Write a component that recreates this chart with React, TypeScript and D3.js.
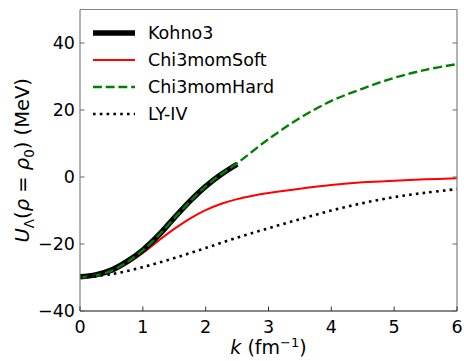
import React from "react";
import * as d3 from "d3";

const kohnoK = [0, 0.25, 0.5, 0.75, 1, 1.25, 1.5, 1.75, 2, 2.25, 2.5];
const kohnoU = [-29.8, -29.2, -27.8, -25.2, -21.8, -17.4, -12.2, -7.2, -2.8, 0.8, 3.8];

const hardK = [0, 0.25, 0.5, 0.75, 1, 1.25, 1.5, 1.75, 2, 2.25, 2.5, 3, 3.5, 4, 4.5, 5, 5.5, 6];
const hardU = [-30, -29.4, -28.0, -25.4, -21.9, -17.5, -12.3, -7.3, -2.8, 0.9, 4.1, 11.3, 17.6, 22.7, 26.4, 29.6, 32.0, 33.7];

const softK = [0, 0.25, 0.5, 0.75, 1, 1.25, 1.5, 1.75, 2, 2.25, 2.5, 2.75, 3, 3.5, 4, 4.5, 5, 5.5, 6];
const softU = [-30, -29.6, -28.3, -25.9, -22.7, -19.0, -15.5, -12.4, -9.9, -8.0, -6.6, -5.6, -4.8, -3.5, -2.4, -1.6, -1.1, -0.7, -0.4];

const lyK = [0, 0.5, 1, 1.5, 2, 2.5, 3, 3.5, 4, 4.5, 5, 5.5, 6];
const lyU = [-30, -29.0, -26.9, -24.2, -21.2, -18.1, -15.3, -12.6, -10.0, -7.8, -6.0, -4.7, -3.6];

const xTicks = [0, 1, 2, 3, 4, 5, 6];
const yTicks = [-40, -20, 0, 20, 40];

const legendNames = ["Kohno3", "Chi3momSoft", "Chi3momHard", "LY-IV"];

const W = 464, H = 361;
const L = 80, R = 457, T = 9.5, B = 311;
const FONT = "DejaVu Sans, sans-serif";

export default function App() {
  const x = d3.scaleLinear().domain([0, 6]).range([L, R]);
  const y = d3.scaleLinear().domain([-40, 50]).range([B, T]);
  const line = (ks: number[], us: number[]) =>
    d3.line<number>().x((_, i) => x(ks[i])).y((_, i) => y(us[i])).curve(d3.curveCatmullRom)(us.map((u) => u)) || "";

  const styles = [
    { stroke: "#000", width: 5.5, dash: "none", cap: "butt" },
    { stroke: "#ff0000", width: 2, dash: "none", cap: "butt" },
    { stroke: "#008000", width: 2.4, dash: "8.9,3.8", cap: "butt" },
    { stroke: "#000", width: 2.6, dash: "2.6,4.2", cap: "butt" },
  ];
  const paths = [
    line(softK, softU),
    line(kohnoK, kohnoU),
    line(hardK, hardU),
    line(lyK, lyU),
  ];
  const order = [1, 0, 2, 3];
  const fmt = (v: number) => (v < 0 ? "\u2212" + Math.abs(v) : String(v));

  return (
    <svg width={W} height={H} style={{ position: "absolute", left: 0, top: 0, background: "#fff" }}>
      <defs>
        <clipPath id="plot">
          <rect x={L} y={T} width={R - L} height={B - T} />
        </clipPath>
      </defs>
      <rect x={0} y={0} width={W} height={H} fill="#fff" />
      <g clipPath="url(#plot)">
        {paths.map((d, j) => {
          const s = styles[order[j]];
          return (
            <path key={j} d={d} fill="none" stroke={s.stroke} strokeWidth={s.width}
              strokeDasharray={s.dash} strokeLinecap={s.cap as any} strokeLinejoin="round" />
          );
        })}
      </g>
      {/* spines */}
      <line x1={L} x2={R} y1={T} y2={T} stroke="#808080" strokeWidth={1.2} />
      <line x1={R} x2={R} y1={T} y2={B} stroke="#808080" strokeWidth={1.2} />
      <line x1={L} x2={L} y1={T} y2={B} stroke="#808080" strokeWidth={1.2} />
      <line x1={L} x2={R} y1={B} y2={B} stroke="#111" strokeWidth={1.2} />
      {/* ticks */}
      {xTicks.map((t) => (
        <g key={"x" + t}>
          <line x1={x(t)} x2={x(t)} y1={B} y2={B - 4.5} stroke="#333" strokeWidth={1} />
          <text x={x(t)} y={B + 22} textAnchor="middle" fontFamily={FONT} fontSize={17.5} fill="#000">{fmt(t)}</text>
        </g>
      ))}
      {yTicks.map((t) => (
        <g key={"y" + t}>
          <line x1={L} x2={L + 4.5} y1={y(t)} y2={y(t)} stroke="#666" strokeWidth={1} />
          <line x1={R} x2={R - 4.5} y1={y(t)} y2={y(t)} stroke="#666" strokeWidth={1} />
          <text x={L - 5} y={y(t) + 6} textAnchor="end" fontFamily={FONT} fontSize={17.5} fill="#000">{fmt(t)}</text>
        </g>
      ))}
      {/* x label */}
      <text x={(L + R) / 2} y={354} textAnchor="middle" fontFamily={FONT} fontSize={19} fill="#000">
        <tspan fontStyle="italic">k</tspan>
        <tspan> (fm</tspan>
        <tspan dy={-7.5} fontSize={13}>{"\u22121"}</tspan>
        <tspan dy={7.5}>)</tspan>
      </text>
      {/* y label */}
      <text transform={`translate(29, ${(T + B) / 2}) rotate(-90)`} textAnchor="middle" fontFamily={FONT} fontSize={19.5} fill="#000">
        <tspan fontStyle="italic">U</tspan>
        <tspan dy={4.5} fontSize={13.5}>{"\u039B"}</tspan>
        <tspan dy={-4.5}>(</tspan>
        <tspan fontStyle="italic">{"\u03C1"}</tspan>
        <tspan>{" = "}</tspan>
        <tspan fontStyle="italic">{"\u03C1"}</tspan>
        <tspan dy={4.5} fontSize={13.5}>0</tspan>
        <tspan dy={-4.5}>) (MeV)</tspan>
      </text>
      {/* legend */}
      {legendNames.map((n, i) => {
        const s = styles[i];
        const ly = 33 + i * 27;
        return (
          <g key={n}>
            <line x1={93} x2={135} y1={ly} y2={ly} stroke={s.stroke} strokeWidth={s.width}
              strokeDasharray={s.dash} />
            <text x={148} y={ly + 6} fontFamily={FONT} fontSize={17.5} fill="#000">{n}</text>
          </g>
        );
      })}
    </svg>
  );
}
